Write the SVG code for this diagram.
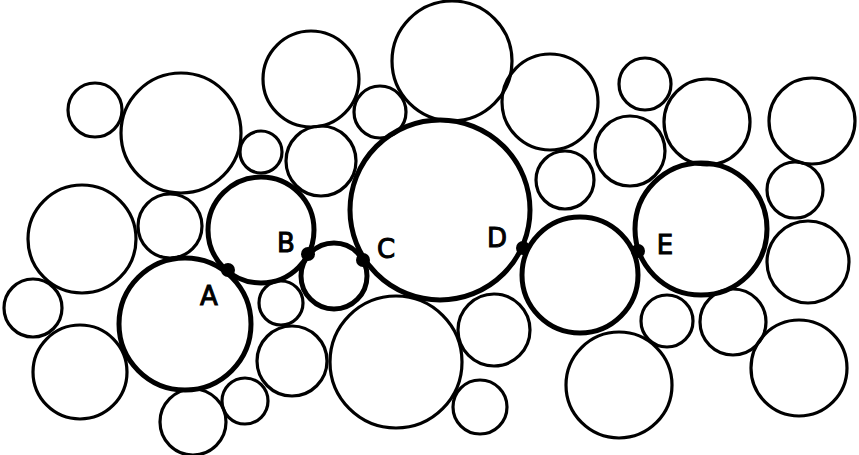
<svg xmlns="http://www.w3.org/2000/svg" width="859" height="455" viewBox="0 0 859 455">
<style>
.c{fill:none;stroke:#000;stroke-width:3.2}
.t{fill:none;stroke:#000;stroke-width:5}
.d{fill:#000}
.l{font-family:"DejaVu Sans","Liberation Sans",sans-serif;font-size:26px;fill:#000;stroke:#000;stroke-width:1;text-anchor:middle}
</style>
<rect width="859" height="455" fill="#fff"/>
<g id="particles">
<circle id="p1" class="c" cx="95" cy="110" r="27"/>
<circle id="p2" class="c" cx="181" cy="133" r="60"/>
<circle id="p3" class="c" cx="261" cy="152" r="21"/>
<circle id="p4" class="c" cx="311" cy="79" r="48"/>
<circle id="p5" class="c" cx="380" cy="112" r="26"/>
<circle id="p6" class="c" cx="452" cy="61" r="60"/>
<circle id="p7" class="c" cx="550" cy="102" r="48"/>
<circle id="p8" class="c" cx="321" cy="161" r="35"/>
<circle id="p10" class="c" cx="565" cy="180" r="29"/>
<circle id="p11" class="c" cx="645" cy="84" r="26"/>
<circle id="p12" class="c" cx="630" cy="151" r="35"/>
<circle id="p13" class="c" cx="707" cy="122" r="43"/>
<circle id="p14" class="c" cx="812" cy="121" r="43"/>
<circle id="p15" class="c" cx="795" cy="190" r="28"/>
<circle id="p17" class="c" cx="808" cy="262" r="41"/>
<circle id="p19" class="c" cx="667" cy="321" r="26"/>
<circle id="p20" class="c" cx="733" cy="322" r="33"/>
<circle id="p21" class="c" cx="799" cy="368" r="48"/>
<circle id="p22" class="c" cx="619" cy="385" r="53"/>
<circle id="p23" class="c" cx="82" cy="239" r="54"/>
<circle id="p24" class="c" cx="170" cy="226" r="32"/>
<circle id="p26" class="c" cx="33" cy="308" r="29"/>
<circle id="p28" class="c" cx="80" cy="372" r="47"/>
<circle id="p29" class="c" cx="193" cy="422" r="33"/>
<circle id="p30" class="c" cx="245" cy="401" r="23"/>
<circle id="p31" class="c" cx="281" cy="303" r="22"/>
<circle id="p33" class="c" cx="292" cy="361" r="35"/>
<circle id="p34" class="c" cx="396" cy="362" r="66"/>
<circle id="p35" class="c" cx="494" cy="330" r="36"/>
<circle id="p36" class="c" cx="480" cy="407" r="27"/>
</g>
<g id="chain">
<circle id="p27" class="t" cx="185" cy="324" r="66"/>
<circle id="p25" class="t" cx="261" cy="230" r="53"/>
<circle id="p32" class="t" cx="334" cy="276" r="33"/>
<circle id="p9" class="t" cx="440" cy="210" r="90"/>
<circle id="p18" class="t" cx="580" cy="275" r="58"/>
<circle id="p16" class="t" cx="701" cy="229" r="66"/>
</g>
<g id="contacts">
<circle class="d" cx="228" cy="270" r="7"/>
<circle class="d" cx="308" cy="254" r="7"/>
<circle class="d" cx="363" cy="260" r="7"/>
<circle class="d" cx="523" cy="248" r="7"/>
<circle class="d" cx="638" cy="251" r="7"/>
</g>
<g id="labels">
<text class="l" x="209" y="305">A</text>
<text class="l" x="286" y="252">B</text>
<text class="l" x="386" y="258">C</text>
<text class="l" x="497" y="247">D</text>
<text class="l" x="665" y="254">E</text>
</g>
</svg>
